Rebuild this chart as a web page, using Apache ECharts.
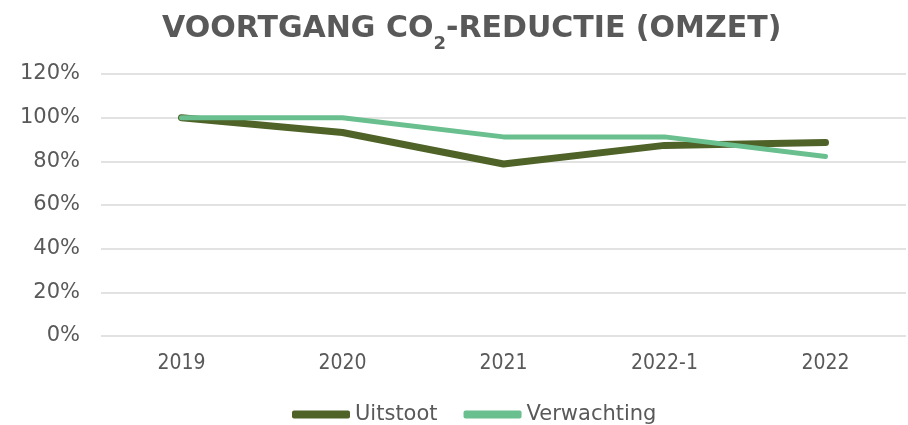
<!DOCTYPE html>
<html><head><meta charset="utf-8">
<script src="https://cdn.jsdelivr.net/npm/echarts@6/dist/echarts.min.js"></script>
<style>html,body{margin:0;padding:0;background:#fff}#c{width:908px;height:425px}</style>
</head><body><div id="c"></div>
<script>
var categories = ['2019', '2020', '2021', '2022-1', '2022'];
var uitstoot = [100, 93.2, 78.8, 87.3, 88.6];
var verwachting = [100, 100, 91.2, 91.2, 82.2];
var yTicks = [0, 20, 40, 60, 80, 100, 120];

var chart = echarts.init(document.getElementById('c'));
chart.setOption({
  animation: false,
  title: {
    text: '{a|VOORTGANG CO}{s|2}{a|-REDUCTIE (OMZET)}',
    left: 157, top: 9,
    textStyle: {
      rich: {
        a: {fontFamily: 'DejaVu Sans', fontWeight: 'bold', fontSize: 30, color: '#595959', lineHeight: 39, verticalAlign: 'top'},
        s: {fontFamily: 'DejaVu Sans', fontWeight: 'bold', fontSize: 18, color: '#595959', lineHeight: 39, verticalAlign: 'bottom', padding: [16, 0, 0, 0]}
      }
    }
  },
  grid: {left: 101, right: 2, top: 74, bottom: 89, containLabel: false},
  legend: {
    top: 399, left: 287,
    itemWidth: 58, itemHeight: 8, itemGap: 26,
    textStyle: {fontFamily: 'DejaVu Sans', fontSize: 21, color: '#595959'},
    data: [
      {name: 'Uitstoot', icon: 'roundRect', itemStyle: {color: '#4f6228'}},
      {name: 'Verwachting', icon: 'roundRect', itemStyle: {color: '#6abf8f'}}
    ]
  },
  xAxis: {
    type: 'category', data: categories, boundaryGap: true,
    axisLine: {show: false}, axisTick: {show: false},
    axisLabel: {fontFamily: 'DejaVu Sans Condensed', fontSize: 21, color: '#595959', margin: 17}
  },
  yAxis: {
    type: 'value', min: yTicks[0], max: yTicks[yTicks.length - 1], interval: 20,
    axisLine: {show: false}, axisTick: {show: false},
    splitLine: {lineStyle: {color: '#d9d9d9', width: 1.5}},
    axisLabel: {fontFamily: 'DejaVu Sans', fontSize: 21, color: '#595959', margin: 21, formatter: '{value}%'}
  },
  series: [
    {name: 'Uitstoot', type: 'line', data: uitstoot, symbol: 'none', color: '#4f6228',
     lineStyle: {color: '#4f6228', width: 7, cap: 'round', join: 'round'}},
    {name: 'Verwachting', type: 'line', data: verwachting, symbol: 'none', color: '#6abf8f',
     lineStyle: {color: '#6abf8f', width: 5, cap: 'round', join: 'round'}}
  ]
});
</script></body></html>
